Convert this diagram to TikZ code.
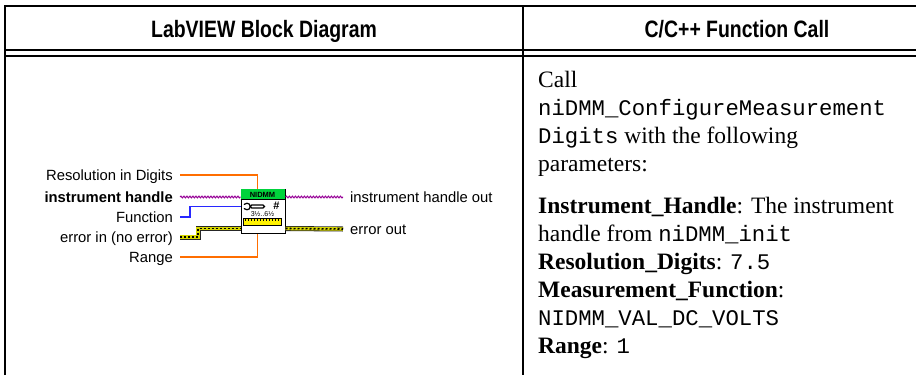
\documentclass[tikz,border=0pt]{standalone}
\usepackage{fontspec}
\setmainfont{Liberation Serif}
\setsansfont{Liberation Sans}
\setmonofont{Liberation Mono}
\newfontfamily\condfont[FakeStretch=0.82]{Liberation Sans}
\usetikzlibrary{decorations.pathmorphing,calc}

\definecolor{dblorange}{RGB}{255,110,0}
\definecolor{enumblue}{RGB}{40,40,255}
\definecolor{refpurple}{RGB}{150,0,150}
\definecolor{erryellow}{RGB}{215,215,0}
\definecolor{nigreen}{RGB}{0,210,60}

\begin{document}
\begin{tikzpicture}[x=1pt,y=-1pt,
        lbl/.style={font=\fontsize{14.8}{16}\sffamily,inner xsep=7pt,inner ysep=1pt,text height=10pt,text depth=0pt},
        refwire/.style={refpurple,line width=1pt,decorate,decoration={snake,amplitude=0.9pt,segment length=3pt}},
        dblwire/.style={dblorange,line width=1.2pt},
        enumwire/.style={enumblue,line width=1.2pt},
        errwire/.style={black,line width=1.6pt,dash pattern=on 2pt off 2pt,
            preaction={draw=black!85,line width=5pt,solid},
            preaction={draw=erryellow,line width=3.4pt,solid}}]
                \useasboundingbox (0,0) rectangle (916,375);
                % table frame
                \draw[line width=1.7pt] (5,375) -- (5,6) -- (916,6);
                \draw[line width=1.7pt] (5,50) -- (916,50);
                \draw[line width=1.7pt] (5,56) -- (916,56);
                \draw[line width=1.7pt] (523,6) -- (523,375);
                \node[font=\fontsize{23.7}{26}\condfont\bfseries,anchor=base] (hlv) at (264,37) {LabVIEW Block Diagram};
                \node[font=\fontsize{23.7}{26}\condfont\bfseries,anchor=base] (hcc) at (737,37) {C/C++ Function Call};
                % block diagram
                \node[draw,line width=1pt,fill=white,minimum width=44pt,minimum height=44pt,inner sep=0] (blk) at (263,211) {};
                \begin{scope}[shift={(blk.north west)}]
                    \fill[nigreen] (0,0) rectangle (44,11);
                    \draw[line width=0.8pt] (0,11) -- (44,11);
                    \node[font=\fontsize{7.5}{8}\sffamily\bfseries,inner sep=0] (nidmm) at (22,6) {NIDMM};
                    \draw[line width=1.2pt] (6.5,18) circle (3.3);
                    \fill[white] (2,16.9) rectangle (5,19.1);
                    \draw[line width=1.2pt,rounded corners=1.5pt] (9.8,16.5) rectangle (24,19.5);
                    \node[font=\fontsize{11}{11}\sffamily\bfseries,inner sep=0] (hash) at (36,17.5) {\#};
                    \node[font=\fontsize{7}{7}\sffamily,inner sep=0] (digs) at (22,26) {3½..6½};
                    \fill[yellow] (3,30) rectangle (41,37);
                    \draw[line width=0.8pt] (3,30) rectangle (41,37);
                    \foreach \t in {5,8,...,39}
                        \draw[line width=0.8pt] (\t,30) -- (\t,32.5);
                \end{scope}
                \coordinate (pinres) at ([xshift=17pt]blk.north west);
                \coordinate (pinrg) at ([xshift=17pt]blk.south west);
                \coordinate (pinfn) at ([yshift=-18pt]blk.north west);
                \coordinate (pinerr) at ([yshift=-40pt]blk.north west);
                \coordinate (pineo) at ([yshift=-40pt]blk.north east);
                \node[lbl,anchor=east] (res) at (180,175) {Resolution in Digits};
                \node[lbl,anchor=east,font=\fontsize{14.8}{16}\sffamily\bfseries] (ih) at (180,197) {instrument handle};
                \node[lbl,anchor=east] (fn) at (180,217) {Function};
                \node[lbl,anchor=east] (ei) at (180,237) {error in (no error)};
                \node[lbl,anchor=east] (rg) at (180,257) {Range};
                \node[lbl,anchor=west] (iho) at (343,197) {instrument handle out};
                \node[lbl,anchor=west] (eo) at (343,229) {error out};
                \draw[dblwire] (res.east) -| (pinres);
                \draw[dblwire] (rg.east) -| (pinrg);
                \draw[refwire] (ih.east) -- (ih.east -| blk.west);
                \draw[enumwire] (fn.east) -- ++(10,0) |- (pinfn);
                \draw[errwire] (ei.east) -- ++(18,0) |- (pinerr);
                \draw[refwire] (blk.east |- iho.west) -- (iho.west);
                \draw[errwire] (pineo) -- (eo.west);
                % function call text
                \node[anchor=north west,align=left,inner sep=0,font=\fontsize{23.5}{28}\selectfont] (call) at (538,71) {Call\\
                    {\fontsize{22.3}{28}\ttfamily niDMM\_ConfigureMeasurement}\\
                    {\fontsize{22.3}{28}\ttfamily Digits} with the following\\
                    parameters:\\[14pt]
                    \textbf{Instrument\_Handle}: The instrument\\
                    handle from {\fontsize{22.3}{28}\ttfamily niDMM\_init}\\
                    \textbf{Resolution\_Digits}: {\fontsize{22.3}{28}\ttfamily 7.5}\\
                    \textbf{Measurement\_Function}:\\
                    {\fontsize{22.3}{28}\ttfamily NIDMM\_VAL\_DC\_VOLTS}\\
                    \textbf{Range}: {\fontsize{22.3}{28}\ttfamily 1}};
            \end{tikzpicture}
\end{document}
